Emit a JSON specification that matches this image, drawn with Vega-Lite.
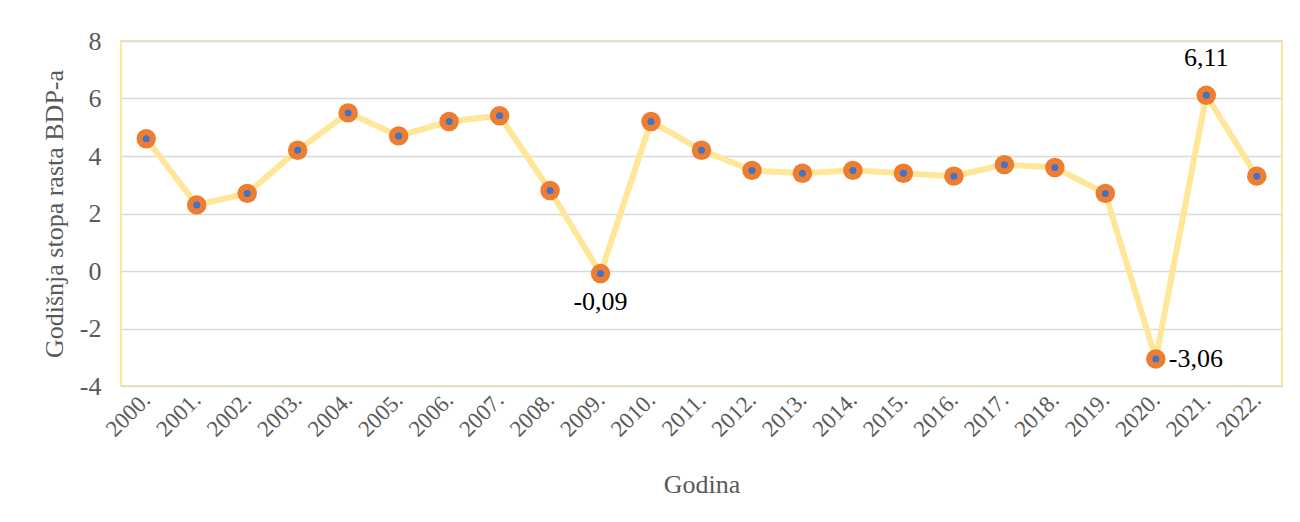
{
  "$schema": "https://vega.github.io/schema/vega-lite/v6.json",
  "width": 1161,
  "height": 345,
  "autosize": {"type": "none"},
  "padding": {"left": 121, "top": 41, "right": 18, "bottom": 136},
  "background": "white",
  "config": {
    "font": "Liberation Serif",
    "view": {"stroke": "#FFE699", "strokeWidth": 2}
  },
  "data": {
    "values": [
      {"year": "2000.", "g": 4.6},
      {"year": "2001.", "g": 2.3},
      {"year": "2002.", "g": 2.7},
      {"year": "2003.", "g": 4.2},
      {"year": "2004.", "g": 5.5},
      {"year": "2005.", "g": 4.7},
      {"year": "2006.", "g": 5.2},
      {"year": "2007.", "g": 5.4},
      {"year": "2008.", "g": 2.8},
      {"year": "2009.", "g": -0.09, "label": "-0,09"},
      {"year": "2010.", "g": 5.2},
      {"year": "2011.", "g": 4.2},
      {"year": "2012.", "g": 3.5},
      {"year": "2013.", "g": 3.4},
      {"year": "2014.", "g": 3.5},
      {"year": "2015.", "g": 3.4},
      {"year": "2016.", "g": 3.3},
      {"year": "2017.", "g": 3.7},
      {"year": "2018.", "g": 3.6},
      {"year": "2019.", "g": 2.7},
      {"year": "2020.", "g": -3.06, "label": "-3,06"},
      {"year": "2021.", "g": 6.11, "label": "6,11"},
      {"year": "2022.", "g": 3.3}
    ]
  },
  "encoding": {
    "x": {
      "field": "year", "type": "ordinal", "sort": null,
      "scale": {"type": "point", "padding": 0.5},
      "axis": {
        "title": "Godina", "titleFont": "Liberation Serif", "titleFontSize": 26, "titleFontWeight": "normal",
        "titleColor": "#595959", "titlePadding": 30,
        "labelAngle": -45, "labelAlign": "right", "labelBaseline": "middle",
        "labelFont": "Liberation Serif",
        "labelFontSize": 23, "labelColor": "#595959", "labelPadding": 10,
        "ticks": false, "domain": false, "grid": false
      }
    },
    "y": {
      "field": "g", "type": "quantitative",
      "scale": {"domain": [-4, 8], "nice": false},
      "axis": {
        "title": "Godišnja stopa rasta BDP-a", "titleFont": "Liberation Serif", "titleFontSize": 26, "titleFontWeight": "normal",
        "titleColor": "#595959", "titlePadding": 12,
        "values": [-4, -2, 0, 2, 4, 6, 8],
        "labelExpr": "'' + datum.value",
        "labelFont": "Liberation Serif",
        "labelFontSize": 26, "labelColor": "#595959", "labelPadding": 20,
        "ticks": false, "domain": false,
        "grid": true, "gridColor": "#D9D9D9", "gridWidth": 1.5
      }
    }
  },
  "layer": [
    {"mark": {"type": "line", "color": "#FFE699", "strokeWidth": 6}},
    {"mark": {"type": "point", "filled": true, "color": "#ED7D31", "size": 380, "opacity": 1}},
    {"mark": {"type": "point", "filled": true, "color": "#4472C4", "size": 49, "opacity": 1}},
    {
      "transform": [{"filter": "datum.year == '2009.'"}],
      "mark": {"type": "text", "fontSize": 26, "color": "#000000", "dy": 28, "align": "center", "baseline": "middle"},
      "encoding": {"text": {"field": "label"}}
    },
    {
      "transform": [{"filter": "datum.year == '2021.'"}],
      "mark": {"type": "text", "fontSize": 26, "color": "#000000", "dy": -37, "align": "center", "baseline": "middle"},
      "encoding": {"text": {"field": "label"}}
    },
    {
      "transform": [{"filter": "datum.year == '2020.'"}],
      "mark": {"type": "text", "fontSize": 26, "color": "#000000", "dx": 13, "align": "left", "baseline": "middle"},
      "encoding": {"text": {"field": "label"}}
    }
  ]
}
